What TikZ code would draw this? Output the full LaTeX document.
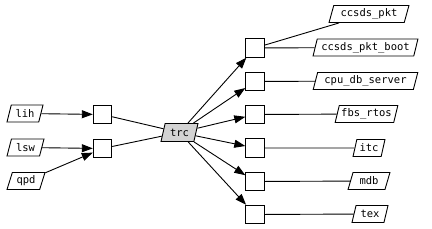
\documentclass[tikz,border=0pt]{standalone}
\usepackage{fontspec}
\setmonofont{DejaVu Sans Mono}
\usetikzlibrary{shapes.geometric,arrows.meta}
\tikzset{
  lbl/.style={draw, line width=0.9pt, trapezium, trapezium left angle=70, trapezium right angle=110,
    trapezium stretches=true, minimum height=17pt, inner sep=0pt, font=\ttfamily\fontsize{10.5}{12}\selectfont},
  sq/.style={draw, line width=0.9pt, rectangle, minimum width=18.5pt, minimum height=18.5pt, inner sep=0pt},
  arr/.style={line width=0.9pt, -{Triangle[length=11pt,width=8pt]}},
  ln/.style={line width=0.9pt}
}
\begin{document}
\begin{tikzpicture}[x=1pt,y=-1pt]
\useasboundingbox (0,0) rectangle (432,229);
% left labels
\node[lbl, minimum width=36pt] (lih) at (25,113.5) {lih};
\node[lbl, minimum width=37pt] (lsw) at (25.5,147.5) {lsw};
\node[lbl, minimum width=38pt] (qpd) at (26,181) {qpd};
% left boxes
\node[sq] (b1) at (102.5,114.5) {};
\node[sq] (b2) at (102.5,148.5) {};
% center
\node[lbl, fill={rgb,255:red,211;green,211;blue,211}, minimum width=37pt, minimum height=18pt] (trc) at (179.5,132.5) {trc};
% right boxes
\node[sq] (r1) at (255,48) {};
\node[sq] (r2) at (255,81.5) {};
\node[sq] (r3) at (255,114.5) {};
\node[sq] (r4) at (255,148) {};
\node[sq] (r5) at (255,181.5) {};
\node[sq] (r6) at (255,214.5) {};
% right labels
\node[lbl, minimum width=80pt] (pkt) at (369,14) {ccsds\_pkt};
\node[lbl, minimum width=105pt] (boot) at (365.5,47.5) {ccsds\_pkt\_boot};
\node[lbl, minimum width=105pt] (cpu) at (365.5,81) {cpu\_db\_server};
\node[lbl, minimum width=63pt] (fbs) at (366.5,114) {fbs\_rtos};
\node[lbl, minimum width=32pt] (itc) at (369,148) {itc};
\node[lbl, minimum width=42pt] (mdb) at (369,181) {mdb};
\node[lbl, minimum width=36pt] (tex) at (370,214) {tex};
% edges
\draw[arr] (lih) -- (b1);
\draw[arr] (lsw) -- (b2);
\draw[arr] (qpd) -- (b2);
\draw[ln] (b1) -- (trc);
\draw[ln] (b2) -- (trc);
\foreach \r in {r1,r2,r3,r4,r5,r6} \draw[arr] (trc) -- (\r);
\draw[ln] (r1) -- (pkt);
\draw[ln] (r1) -- (boot);
\draw[ln] (r2) -- (cpu);
\draw[ln] (r3) -- (fbs);
\draw[ln] (r4) -- (itc);
\draw[ln] (r5) -- (mdb);
\draw[ln] (r6) -- (tex);
\end{tikzpicture}
\end{document}
